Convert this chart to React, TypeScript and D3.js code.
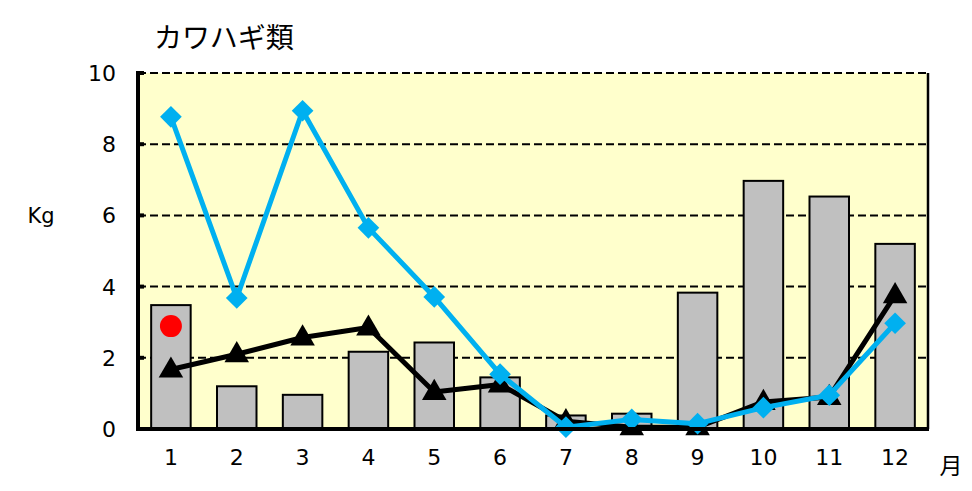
import React from "react";
import * as d3 from "d3";

const months = ["1", "2", "3", "4", "5", "6", "7", "8", "9", "10", "11", "12"];
const barValues = [3.48, 1.2, 0.96, 2.17, 2.43, 1.45, 0.38, 0.43, 3.83, 6.97, 6.53, 5.2];
const blueValues = [8.77, 3.68, 8.94, 5.65, 3.71, 1.54, 0.05, 0.27, 0.15, 0.6, 0.95, 2.97];
const blackValues = [1.67, 2.1, 2.57, 2.85, 1.04, 1.25, 0.22, 0.05, 0.05, 0.76, 0.9, 3.76];
const redPoint = { month: "1", value: 2.89 };
const yTicks = [0, 2, 4, 6, 8, 10];

const W = 972;
const H = 491;
const margin = { top: 73, right: 44, bottom: 62, left: 138 };
const font = "'DejaVu Sans', Verdana, sans-serif";
const cjk = "'Noto Sans CJK JP', sans-serif";

export default function App() {
  const iw = W - margin.left - margin.right;
  const ih = H - margin.top - margin.bottom;

  const x = d3.scaleBand().domain(months).range([0, iw]).paddingInner(0.4).paddingOuter(0.2);
  const xc = (m: string) => (x(m) as number) + x.bandwidth() / 2;
  const y = d3.scaleLinear().domain([0, 10]).range([ih, 0]);

  const line = d3
    .line<number>()
    .x((_, i) => xc(months[i]))
    .y((d) => y(d));

  const diamond = d3.symbol().type(d3.symbolDiamond2).size(300)();
  const triangle = d3.symbol().type(d3.symbolTriangle).size(260)();

  return (
    <svg width={W} height={H} style={{ position: "absolute", left: 0, top: 0 }}>
      <rect width={W} height={H} fill="#fff" />
      <text x={154} y={48} fontFamily={cjk} fontSize={28} fill="#000">
        カワハギ類
      </text>
      <text x={41} y={223} fontFamily={font} fontSize={21} textAnchor="middle" fill="#000">
        Kg
      </text>
      <text x={951} y={474} fontFamily={cjk} fontSize={23} textAnchor="middle" fill="#000">
        月
      </text>
      <g transform={`translate(${margin.left},${margin.top})`}>
        <rect width={iw} height={ih} fill="#FFFFCC" />
        {yTicks.filter((t) => t > 0).map((t) => (
          <line
            key={t}
            x1={0}
            x2={iw}
            y1={y(t)}
            y2={y(t)}
            stroke="#000"
            strokeWidth={2}
            strokeDasharray="8,4"
          />
        ))}
        <line x1={iw} x2={iw} y1={0} y2={ih} stroke="#000" strokeWidth={2.5} />
        {barValues.map((v, i) => (
          <rect
            key={i}
            x={x(months[i])}
            y={y(v)}
            width={x.bandwidth()}
            height={ih - y(v)}
            fill="#C0C0C0"
            stroke="#000"
            strokeWidth={2}
          />
        ))}
        <circle cx={xc(redPoint.month)} cy={y(redPoint.value)} r={11} fill="#FF0000" />
        <path d={line(blackValues) as string} fill="none" stroke="#000" strokeWidth={5} strokeLinejoin="round" />
        {blackValues.map((v, i) => (
          <path key={i} d={triangle as string} transform={`translate(${xc(months[i])},${y(v) + 1})`} fill="#000" />
        ))}
        <path d={line(blueValues) as string} fill="none" stroke="#00B0F0" strokeWidth={5} strokeLinejoin="round" />
        {blueValues.map((v, i) => (
          <path key={i} d={diamond as string} transform={`translate(${xc(months[i])},${y(v)})`} fill="#00B0F0" />
        ))}
        <line x1={0} x2={0} y1={-2} y2={ih + 2} stroke="#000" strokeWidth={4} />
        <line x1={-2} x2={iw + 1} y1={ih} y2={ih} stroke="#000" strokeWidth={4} />
        {yTicks.map((t) => (
          <g key={t}>
            <line x1={0} x2={6} y1={y(t)} y2={y(t)} stroke="#000" strokeWidth={4} />
            <text x={-22} y={y(t) + 8} fontFamily={font} fontSize={22} textAnchor="end" fill="#000">
              {t}
            </text>
          </g>
        ))}
        {months.map((m) => (
          <text key={m} x={xc(m)} y={ih + 36} fontFamily={font} fontSize={22} textAnchor="middle" fill="#000">
            {m}
          </text>
        ))}
      </g>
    </svg>
  );
}
